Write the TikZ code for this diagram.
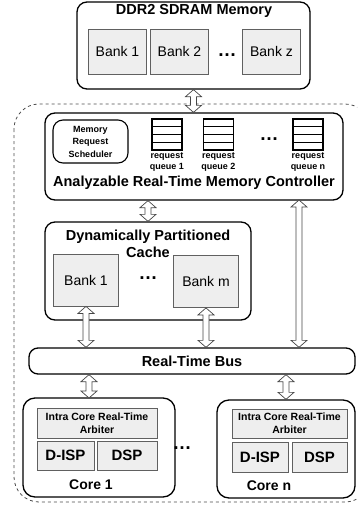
\documentclass[tikz,border=0pt]{standalone}
\usepackage{fontspec}
\setmainfont{Liberation Sans}
\usepackage{tikz}
\usetikzlibrary{positioning,calc}

\tikzstyle{unitbox}  =[draw=black, line width=1.3pt, rounded corners=10pt, fill=white]
\tikzstyle{bankbox}  =[draw=gray!75!black, line width=0.8pt, fill=gray!13]
\tikzstyle{queuebox} =[draw=black, line width=1.3pt, minimum width=30pt, minimum height=31pt, inner sep=0pt]
\tikzstyle{hollow}   =[fill=white, draw=gray!55!black, line width=0.7pt]
\tikzstyle{bigtitle} =[font=\bfseries\fontsize{14.5}{17}\selectfont, align=center, inner sep=0pt]
\tikzstyle{banktext} =[font=\fontsize{14}{16}\selectfont]
\tikzstyle{smalltext}=[font=\bfseries\fontsize{9}{11}\selectfont, align=center, inner sep=0pt]
\tikzstyle{arbtext}  =[font=\bfseries\fontsize{10.5}{13}\selectfont, align=center]
\tikzstyle{unittext} =[font=\bfseries\fontsize{15}{17}\selectfont]
\tikzstyle{gap}      =[font=\bfseries\fontsize{19}{20}\selectfont, inner sep=0pt, anchor=base]

% hollow two-headed arrow, first point above the second
\newcommand\busarrow[2]{%
  \filldraw[hollow] let \p1=#1, \p2=#2 in
    (\x1,\y1) -- (\x1+8pt,\y1-7pt) -- (\x1+3pt,\y1-7pt) -- (\x1+3pt,\y2+7pt)
    -- (\x1+8pt,\y2+7pt) -- (\x1,\y2) -- (\x1-8pt,\y2+7pt) -- (\x1-3pt,\y2+7pt)
    -- (\x1-3pt,\y1-7pt) -- (\x1-8pt,\y1-7pt) -- cycle;}

\begin{document}
\begin{tikzpicture}[x=1pt, y=-1pt]
  \clip (0,0) rectangle (357,507);

  % dashed border of the chip
  \draw[dashed, gray!60!black, line width=0.8pt, rounded corners=25pt] (14,104) rectangle (370,502);

  % DDR2 memory
  \node[unitbox, minimum width=233pt, minimum height=87pt] (ddr) at (193.5,45.5) {};
  \node[bigtitle] (ddrtitle) at (194,11) {DDR2 SDRAM Memory};
  \node[bankbox, banktext, minimum width=58pt, minimum height=45pt] (mb1) at (117.5,51.5) {Bank 1};
  \node[bankbox, banktext, minimum width=58pt, minimum height=45pt] (mb2) at (179.5,51.5) {Bank 2};
  \node[bankbox, banktext, minimum width=58pt, minimum height=45pt] (mbz) at (271.5,51.5) {Bank z};
  \node[gap] (mdots) at (227,56) {\dots};

  % memory controller
  \node[unitbox, minimum width=298pt, minimum height=87pt] (ctrl) at (194,156.5) {};
  \node[draw=black, line width=1.1pt, rounded corners=10pt, minimum width=75pt, minimum height=43pt,
        smalltext, font=\bfseries\fontsize{9}{12.5}\selectfont] (sched) at (90.5,141.5) {Memory\\Request\\Scheduler};
  \node[queuebox] (q1) at (167,134.5) {};
  \node[queuebox] (q2) at (218.5,134.5) {};
  \node[queuebox] (qn) at (308,134.5) {};
  \foreach \q in {q1,q2,qn}
    \foreach \r in {0.25,0.5,0.75}
      \draw[line width=1.3pt] ($(\q.north west)!\r!(\q.south west)$) -- ($(\q.north east)!\r!(\q.south east)$);
  \node[smalltext, below=2pt of q1] (q1label) {request\\queue 1};
  \node[smalltext, below=2pt of q2] (q2label) {request\\queue 2};
  \node[smalltext, below=2pt of qn] (qnlabel) {request\\queue n};
  \node[gap] (qdots) at (269,140) {\dots};
  \node[bigtitle] (ctrltitle) at (194,183) {Analyzable Real-Time Memory Controller};

  % partitioned cache
  \node[unitbox, minimum width=206pt, minimum height=98pt] (cache) at (148,271) {};
  \node[bigtitle] (cachetitle) at (148,243.5) {Dynamically Partitioned\\Cache};
  \node[bankbox, banktext, minimum width=65pt, minimum height=52pt] (cb1) at (86,280) {Bank 1};
  \node[bankbox, banktext, minimum width=65pt, minimum height=52pt] (cbm) at (206,281.5) {Bank m};
  \node[gap] (cdots) at (148,279) {\dots};

  % bus
  \node[unitbox, rounded corners=9pt, minimum width=326pt, minimum height=26pt, bigtitle] (bus) at (192,361) {Real-Time Bus};

  % cores
  \node[unitbox, rounded corners=12pt, minimum width=152pt, minimum height=99pt] (core1) at (99,447.5) {};
  \node[bankbox, arbtext, minimum width=120pt, minimum height=30pt] (arb1) at (97,423) {Intra Core Real-Time\\Arbiter};
  \node[bankbox, unittext, minimum width=57pt, minimum height=29pt] (disp1) at (65.5,455.5) {D-ISP};
  \node[bankbox, unittext, minimum width=60pt, minimum height=29pt] (dsp1) at (127,455.5) {DSP};
  \node[unittext, font=\bfseries\fontsize{14}{16}\selectfont] (core1label) at (91,485) {Core 1};

  \node[gap] (coredots) at (182,449) {\dots};

  \node[unitbox, rounded corners=12pt, minimum width=138pt, minimum height=98pt] (coren) at (286,449) {};
  \node[bankbox, arbtext, minimum width=115pt, minimum height=29pt] (arbn) at (289.5,423.5) {Intra Core Real-Time\\Arbiter};
  \node[bankbox, unittext, minimum width=56pt, minimum height=30pt] (dispn) at (260,457) {D-ISP};
  \node[bankbox, unittext, minimum width=55pt, minimum height=30pt] (dspn) at (319.5,457) {DSP};
  \node[unittext, font=\bfseries\fontsize{14}{16}\selectfont] (corenlabel) at (269,486) {Core n};

  % connections
  \coordinate (ctrlport) at (299,200);
  \coordinate (core1port) at (89,398);
  \busarrow{(ddr.south)}{(ddr.south |- ctrl.north)}
  \busarrow{(cache.north |- ctrl.south)}{(cache.north)}
  \busarrow{(ctrlport)}{(ctrlport |- bus.north)}
  \busarrow{(cb1.south)}{(cb1.south |- bus.north)}
  \busarrow{(cbm.south)}{(cbm.south |- bus.north)}
  \busarrow{(core1port |- bus.south)}{(core1port)}
  \busarrow{(coren.north |- bus.south)}{(coren.north)}

\end{tikzpicture}
\end{document}
